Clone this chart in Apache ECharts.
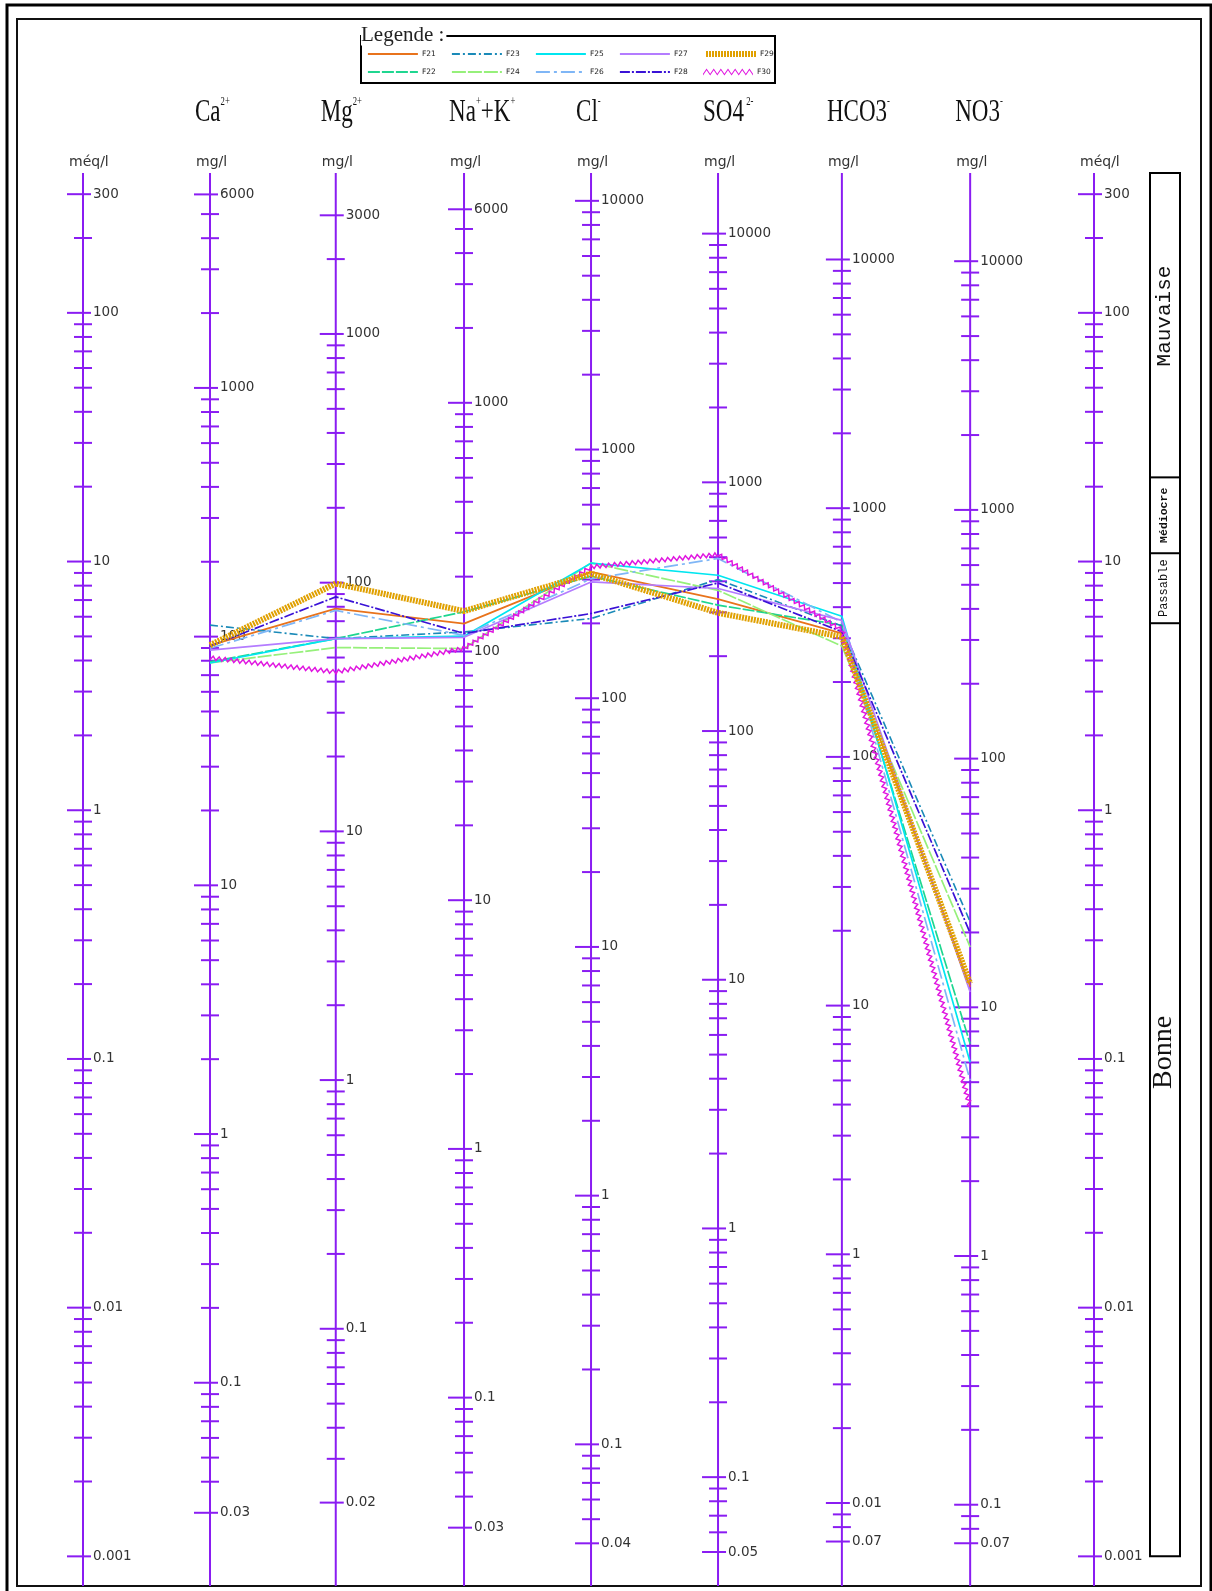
<!DOCTYPE html>
<html>
<head>
<meta charset="utf-8">
<script src="https://cdn.jsdelivr.net/npm/echarts@6/dist/echarts.min.js"></script>
<style>
  html, body { margin: 0; padding: 0; background: #fff; }
  #chart { width: 1212px; height: 1591px; }
</style>
</head>
<body>
<div id="chart"></div>
<script>
// ---- Schoeller-Berkaloff diagram: wells F21 to F30 ----

// Ion columns (left to right) and their equivalent weights in mg per méq
const ions = ['Ca', 'Mg', 'Na+K', 'Cl', 'SO4', 'HCO3', 'NO3'];
const equivalentWeights = [20.04, 12.16, 23.0, 35.45, 48.03, 61.02, 62.0];

// Concentrations in méq/l, in the order of the ion columns
const F21 = [4.60, 6.47, 5.63, 9.09, 7.06, 5.14, 0.195];
const F22 = [3.95, 4.90, 6.28, 8.73, 6.68, 5.55, 0.115];
const F23 = [5.55, 4.90, 5.21, 5.90, 8.47, 5.50, 0.356];
const F24 = [3.91, 4.51, 4.47, 9.88, 7.66, 4.57, 0.282];
const F25 = [3.91, 4.90, 5.01, 9.85, 8.81, 6.03, 0.097];
const F26 = [4.48, 6.36, 5.05, 8.52, 10.29, 5.70, 0.082];
const F27 = [4.40, 4.90, 4.96, 8.28, 7.79, 5.80, 0.186];
const F28 = [4.57, 7.21, 5.14, 6.18, 8.20, 5.22, 0.321];
const F29 = [4.61, 8.16, 6.32, 8.94, 6.22, 4.98, 0.201];
const F30 = [4.10, 3.60, 4.47, 9.52, 10.67, 5.30, 0.064];

const wellNames = ['F21', 'F22', 'F23', 'F24', 'F25', 'F26', 'F27', 'F28', 'F29', 'F30'];
const wellValues = [F21, F22, F23, F24, F25, F26, F27, F28, F29, F30];

// Labelled ticks of every scale (méq/l on the outer scales, mg/l on the ion scales)
const meqTicks  = [300, 100, 10, 1, 0.1, 0.01, 0.001];
const caTicks   = [6000, 1000, 100, 10, 1, 0.1, 0.03];
const mgTicks   = [3000, 1000, 100, 10, 1, 0.1, 0.02];
const naTicks   = [6000, 1000, 100, 10, 1, 0.1, 0.03];
const clTicks   = [10000, 1000, 100, 10, 1, 0.1, 0.04];
const so4Ticks  = [10000, 1000, 100, 10, 1, 0.1, 0.05];
const hco3Ticks = [10000, 1000, 100, 10, 1, 0.1, 0.07];
const no3Ticks  = [10000, 1000, 100, 10, 1, 0.1, 0.07];
// the bicarbonate scale prints "0.01" at its 0.1 tick
const hco3TickText = ['10000', '1000', '100', '10', '1', '0.01', '0.07'];

// Potability classes (méq/l limits between classes, top to bottom)
const qualityClasses = ['Mauvaise', 'Médiocre', 'Passable', 'Bonne'];
const qualityLimits = [21.8, 10.8, 5.65];
const qualityBottom = 0.001;

// ---- drawing settings ----
const Y_MIN = 0.00076, Y_MAX = 365;
// horizontal place of each scale on the x axis (left méq/l, seven ions, right méq/l)
const scalePos = [0, 1.005, 2.0, 3.015, 4.02, 5.025, 6.005, 7.02, 8];
const AXIS_COLOR = '#8a1cf2';
const TEXT_COLOR = '#333333';
const TICK_FONT = '13.5px "DejaVu Sans"';

const headerRich = [
  null,
  '{m|Ca}{s|2+}',
  '{m|Mg}{s|2+}',
  '{m|Na}{s|+}{m|+K}{s|+}',
  '{m|Cl}{s|-}',
  '{m|SO4}{s| 2-}',
  '{m|HCO3}{s|-}',
  '{m|NO3}{s|-}',
  null
];

const scales = [
  { unit: 'méq/l', weight: 1, ticks: meqTicks },
  { unit: 'mg/l', weight: equivalentWeights[0], ticks: caTicks },
  { unit: 'mg/l', weight: equivalentWeights[1], ticks: mgTicks },
  { unit: 'mg/l', weight: equivalentWeights[2], ticks: naTicks },
  { unit: 'mg/l', weight: equivalentWeights[3], ticks: clTicks },
  { unit: 'mg/l', weight: equivalentWeights[4], ticks: so4Ticks },
  { unit: 'mg/l', weight: equivalentWeights[5], ticks: hco3Ticks, text: hco3TickText },
  { unit: 'mg/l', weight: equivalentWeights[6], ticks: no3Ticks },
  { unit: 'méq/l', weight: 1, ticks: meqTicks }
];

const lineStyles = {
  F21: { color: '#e8731c', width: 1.7, type: 'solid' },
  F22: { color: '#1fd690', width: 1.7, type: [12, 2] },
  F23: { color: '#1a8ab8', width: 1.6, type: [8, 3, 2, 3] },
  F24: { color: '#96f07a', width: 1.7, type: [14, 2] },
  F25: { color: '#00e6f0', width: 1.7, type: 'solid' },
  F26: { color: '#7fb6f6', width: 1.7, type: [14, 4, 3, 4] },
  F27: { color: '#b47cff', width: 1.7, type: 'solid' },
  F28: { color: '#3a12d6', width: 1.7, type: [10, 2, 2, 2] },
  F29: { color: '#e0a000', width: 6, type: [2, 1] },
  F30: { color: '#e016e0', width: 1.5, type: 'solid' }
};

function tickLine(x1, x2, y) {
  return { type: 'line', shape: { x1: x1, y1: y, x2: x2, y2: y },
           style: { stroke: AXIS_COLOR, lineWidth: 2 } };
}

// One vertical scale with its ticks, labels, unit and ion header
function renderScale(params, api) {
  const i = params.dataIndex;
  const sc = scales[i];
  const px = api.value(0);
  const x = api.coord([px, 1])[0];
  const yTop = api.coord([px, Y_MAX])[1];
  const yBot = api.coord([px, Y_MIN])[1];
  const kids = [];
  kids.push({ type: 'line', shape: { x1: x, y1: yTop, x2: x, y2: yBot },
              style: { stroke: AXIS_COLOR, lineWidth: 2 } });

  const lo = Math.min.apply(null, sc.ticks), hi = Math.max.apply(null, sc.ticks);
  for (let e = Math.floor(Math.log10(lo)) - 1; e <= Math.ceil(Math.log10(hi)); e++) {
    for (let d = 1; d <= 9; d++) {
      const v = d * Math.pow(10, e);
      if (v < lo * 0.999 || v > hi * 1.001) continue;
      if (sc.ticks.some(t => Math.abs(t - v) / v < 1e-6)) continue;
      kids.push(tickLine(x - 9, x + 9, api.coord([px, v / sc.weight])[1]));
    }
  }
  sc.ticks.forEach((v, k) => {
    const y = api.coord([px, v / sc.weight])[1];
    kids.push(tickLine(x - 16, x + 8, y));
    kids.push({ type: 'text', x: x + 10, y: y,
      style: { text: sc.text ? sc.text[k] : String(v), fill: TEXT_COLOR, font: TICK_FONT,
               align: 'left', verticalAlign: 'middle' } });
  });
  kids.push({ type: 'text', x: x - 14, y: yTop - 11,
    style: { text: sc.unit, fill: TEXT_COLOR, font: '14px "DejaVu Sans"',
             align: 'left', verticalAlign: 'middle' } });
  if (headerRich[i]) {
    kids.push({ type: 'text', x: x - 15, y: yTop - 60, scaleX: 0.72,
      style: { text: headerRich[i], fill: '#111', align: 'left', verticalAlign: 'middle',
        rich: {
          m: { fontFamily: 'Liberation Serif', fontSize: 32, lineHeight: 34, fill: '#111' },
          s: { fontFamily: 'Liberation Serif', fontSize: 12, lineHeight: 34, verticalAlign: 'top', fill: '#111' }
        } } });
  }
  return { type: 'group', children: kids };
}

// Potability classes box beside the right méq/l scale
function renderQuality(params, api) {
  const px = api.value(0);
  const x = api.coord([px, 1])[0];
  const x0 = x + 56, w = 30;
  const yTop = api.coord([px, Y_MAX])[1];
  const yBot = api.coord([px, qualityBottom])[1];
  const bounds = [yTop].concat(qualityLimits.map(v => api.coord([px, v])[1]), [yBot]);
  const kids = [{ type: 'rect', shape: { x: x0, y: yTop, width: w, height: yBot - yTop },
                  style: { fill: 'none', stroke: '#000', lineWidth: 2 } }];
  qualityLimits.forEach(v => {
    const y = api.coord([px, v])[1];
    kids.push({ type: 'line', shape: { x1: x0, y1: y, x2: x0 + w, y2: y },
                style: { stroke: '#000', lineWidth: 2 } });
  });
  const fonts = ['21px "Liberation Mono"', 'bold 11.5px "Liberation Mono"', '12px "Liberation Mono"', '28px "Liberation Serif"'];
  const centers = [0.47, 0.5, 0.5, 0.46];
  qualityClasses.forEach((name, k) => {
    const yc = bounds[k] + (bounds[k + 1] - bounds[k]) * centers[k];
    kids.push({ type: 'text', x: x0 + w / 2 - 1, y: yc, rotation: Math.PI / 2,
      style: { text: name, fill: '#111', font: fonts[k], align: 'center', verticalAlign: 'middle' } });
  });
  return { type: 'group', children: kids };
}

// Wavy trace for F30
function renderWavy(params, api) {
  const pts = F30.map((v, k) => api.coord([scalePos[k + 1], v]));
  const out = [];
  let n = 0;
  const half = 3, amp = 2;
  for (let s = 0; s < pts.length - 1; s++) {
    const [x0, y0] = pts[s], [x1, y1] = pts[s + 1];
    const len = Math.hypot(x1 - x0, y1 - y0);
    const nx = -(y1 - y0) / len, ny = (x1 - x0) / len;
    const steps = Math.max(1, Math.round(len / half));
    for (let j = 0; j < steps; j++) {
      const t = j / steps;
      const off = (n++ % 2 === 0) ? amp : -amp;
      out.push([x0 + (x1 - x0) * t + nx * off, y0 + (y1 - y0) * t + ny * off]);
    }
  }
  out.push(pts[pts.length - 1]);
  return { type: 'polyline', shape: { points: out },
           style: { stroke: lineStyles.F30.color, lineWidth: lineStyles.F30.width, fill: null } };
}

function zigzagIcon(n, w, h, t) {
  const up = [], lo = [];
  for (let i = 0; i <= n; i++) {
    const x = +(i * w / n).toFixed(2);
    const y = i % 2 ? 0 : h;
    up.push(x + ',' + y);
    lo.push(x + ',' + (y + t));
  }
  return 'path://M' + up.join(' L') + ' L' + lo.reverse().join(' L') + ' Z';
}

const series = [];
series.push({
  type: 'custom', name: 'scales', silent: true, z: 1,
  renderItem: renderScale,
  data: scales.map((s, i) => [scalePos[i], 1])
});
series.push({
  type: 'custom', name: 'quality', silent: true, z: 1,
  renderItem: renderQuality,
  data: [[scalePos[8], 1]]
});
wellNames.forEach((name, k) => {
  if (name === 'F30') {
    series.push({ type: 'custom', name: name, silent: true, z: 3,
      itemStyle: { color: lineStyles.F30.color },
      renderItem: renderWavy, data: [[scalePos[1], F30[0]]] });
  } else {
    series.push({
      type: 'line', name: name, silent: true, z: 2 + (name === 'F29' ? 1 : 0),
      symbol: 'none', animation: false,
      lineStyle: lineStyles[name], itemStyle: { color: lineStyles[name].color },
      data: wellValues[k].map((v, j) => [scalePos[j + 1], v])
    });
  }
});

// Legend: five columns, two rows
const legendOrder = [['F21', 'F23', 'F25', 'F27', 'F29'], ['F22', 'F24', 'F26', 'F28', 'F30']];
const legends = [];
legendOrder.forEach((row, r) => {
  row.forEach((name, c) => {
    const item = { name: name };
    if (name === 'F30') {
      item.icon = zigzagIcon(14, 48, 5, 1.6);
      item.itemStyle = { color: lineStyles.F30.color, opacity: 1 };
    } else {
      item.lineStyle = { width: name === 'F29' ? 6 : 1.8 };
    }
    legends.push({
      left: 367 + c * 84, top: 50 + r * 18, padding: 0, itemGap: 0,
      itemWidth: 50, itemHeight: 8, selectedMode: false, z: 10,
      itemStyle: { opacity: 0 },
      textStyle: { fontSize: 7.5, fontFamily: 'DejaVu Sans', color: '#222', padding: [0, 0, 0, -1] },
      data: [item]
    });
  });
});

const option = {
  animation: false,
  backgroundColor: '#fff',
  grid: { left: 83, right: 118, top: 173, bottom: 5 },
  xAxis: { type: 'value', min: 0, max: 8, show: false },
  yAxis: { type: 'log', logBase: 10, min: Y_MIN, max: Y_MAX, show: false },
  legend: legends,
  graphic: [
    { type: 'rect', z: 0, shape: { x: 7, y: 5, width: 1204, height: 1600 },
      style: { fill: 'none', stroke: '#000', lineWidth: 3 } },
    { type: 'rect', z: 0, shape: { x: 17, y: 19, width: 1184, height: 1567 },
      style: { fill: 'none', stroke: '#111', lineWidth: 2 } },
    { type: 'rect', z: 0, shape: { x: 361, y: 36, width: 414, height: 47 },
      style: { fill: 'none', stroke: '#000', lineWidth: 2 } },
    { type: 'text', z: 5, x: 361, y: 35,
      style: { text: 'Legende :', font: '21px "Liberation Serif"', fill: '#222',
               verticalAlign: 'middle', backgroundColor: '#fff', padding: [0, 2, 0, 0] } }
  ],
  series: series
};

const chart = echarts.init(document.getElementById('chart'), null, { renderer: 'canvas', width: 1212, height: 1591 });
chart.setOption(option);
</script>
</body>
</html>
